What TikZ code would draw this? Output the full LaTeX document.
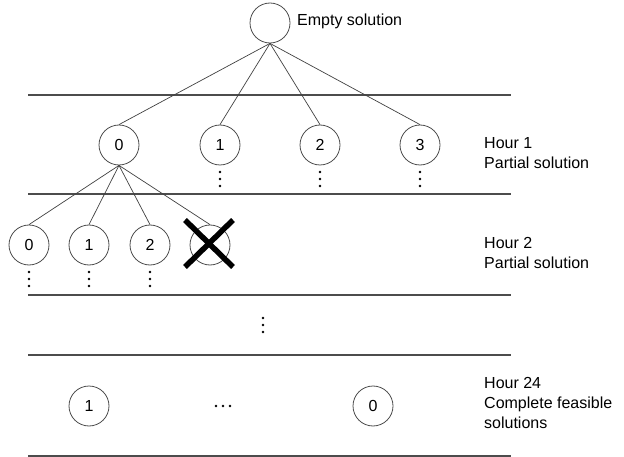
\documentclass[tikz,border=0pt]{standalone}
\usepackage{fontspec}
\setmainfont{Liberation Sans}
\begin{document}
\begin{tikzpicture}[x=1pt,y=-1pt,
  sol/.style={circle,draw=black!70,line width=0.8pt,minimum size=40pt,inner sep=0pt,
              font=\fontsize{16}{20}\selectfont},
  edge/.style={draw=black!75,line width=0.7pt},
  levelline/.style={draw=black!70,line width=1.1pt},
  lbl/.style={anchor=north west,align=left,inner sep=0pt,font=\fontsize{16}{20}\selectfont},
  vdts/.pic={\foreach \d in {-7,0,7} \fill (0,\d) circle (1.3pt);},
  hdts/.pic={\foreach \d in {-7,0,7} \fill (\d,0) circle (1.3pt);},
  crossmark/.style={line width=5.5pt,draw=black}]
\useasboundingbox (0,0) rectangle (624,457);

% separators between the levels of the search tree
\foreach \yy in {95,194,295,355,456}
  \draw[levelline] (28,\yy) -- (511,\yy);

% root
\node[sol] (root) at (270,23) {};
\node[anchor=base west,inner sep=0pt,font=\fontsize{16}{20}\selectfont] (rootlbl) at (297,26) {Empty solution};

% hour 1
\node[sol] (a0) at (119,145) {0};
\node[sol] (a1) at (220,145) {1};
\node[sol] (a2) at (320,145) {2};
\node[sol] (a3) at (420,145) {3};
\foreach \n in {a0,a1,a2,a3}
  \draw[edge] (root.south) -- (\n.north);
\pic at (220,179) {vdts};
\pic at (320,179) {vdts};
\pic at (420,179) {vdts};
\node[lbl] (h1) at (484,137) {Hour 1\\Partial solution};

% hour 2
\node[sol] (b0) at (29,245) {0};
\node[sol] (b1) at (89,245) {1};
\node[sol] (b2) at (150,245) {2};
\node[sol] (b3) at (210,245) {};
\foreach \n in {b0,b1,b2,b3}
  \draw[edge] (a0.south) -- (\n.north);
\pic at (29,279) {vdts};
\pic at (89,279) {vdts};
\pic at (150,279) {vdts};
% pruned branch
\draw[crossmark] (185,220) -- (233,267);
\draw[crossmark] (233,220) -- (185,267);
\node[lbl] (h2) at (484,237) {Hour 2\\Partial solution};

% intermediate hours
\pic at (263,325) {vdts};

% hour 24
\node[sol] (c0) at (89,406) {1};
\node[sol] (c1) at (373,406) {0};
\pic at (223,406) {hdts};
\node[lbl] (h24) at (484,377) {Hour 24\\Complete feasible\\solutions};
\end{tikzpicture}
\end{document}
